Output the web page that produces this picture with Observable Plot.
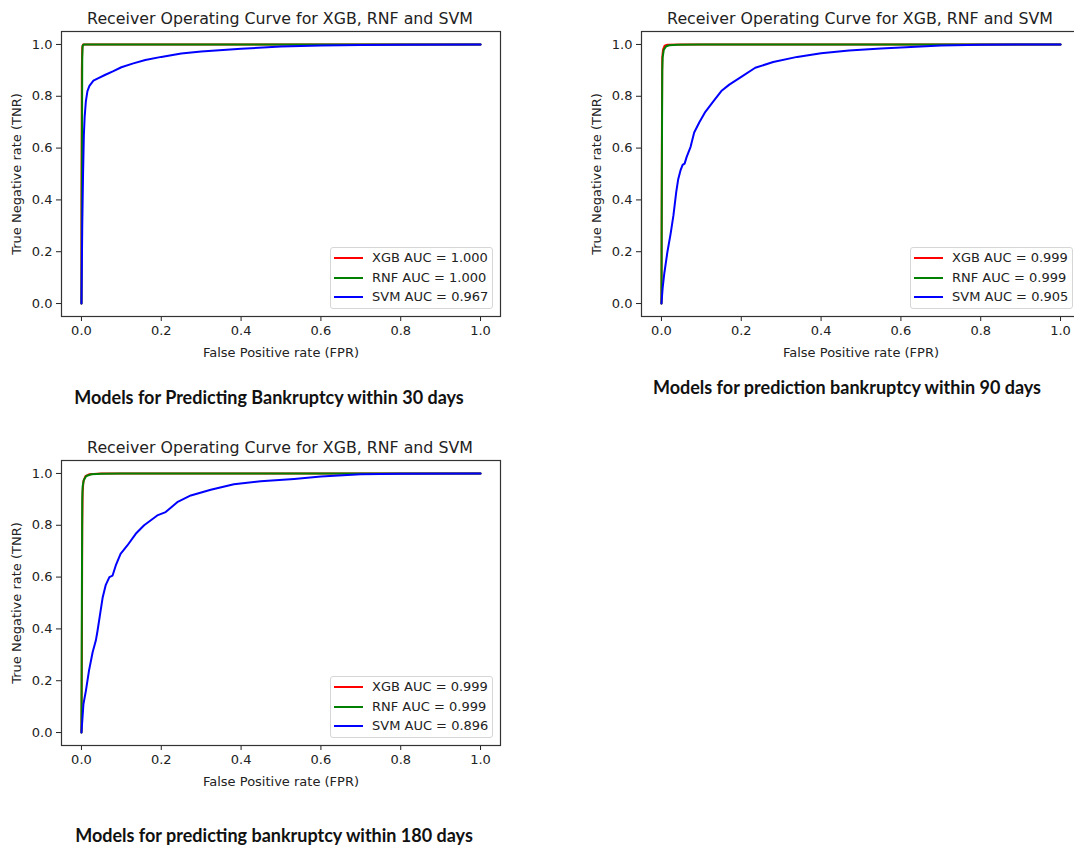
<!DOCTYPE html>
<html><head><meta charset="utf-8">
<script src="https://cdn.jsdelivr.net/npm/d3@7"></script>
<script src="https://cdn.jsdelivr.net/npm/@observablehq/plot@0.6"></script>
<style>
html,body{margin:0;padding:0;background:#fff;overflow:hidden;}
#root{position:relative;width:1074px;height:846px;overflow:hidden;background:#fff;}
.title{position:absolute;font-family:"DejaVu Sans";font-size:15.8px;color:#222;white-space:nowrap;transform:translate(-50%,-50%);}
.caption{position:absolute;font-family:Lato;font-weight:700;font-size:18px;color:#111;white-space:nowrap;transform:translate(-50%,-50%);}
.legend{position:absolute;width:163px;height:62px;box-sizing:border-box;border:1px solid #d6d6d6;border-radius:3px;background:rgba(255,255,255,0.85);font-family:"DejaVu Sans";font-size:13px;color:#222;}
.lrow{position:absolute;left:0;height:0;}
.sw{position:absolute;left:3px;top:-1px;width:29px;height:2px;}
.lt{position:absolute;left:41px;top:-8px;white-space:nowrap;line-height:16px;}
</style>
</head>
<body>
<div id="root"></div>
<script>
// ---- data ----
const models = ["XGB", "RNF", "SVM"];
const fprTicks = [0, 0.2, 0.4, 0.6, 0.8, 1.0];
const tnrTicks = [0, 0.2, 0.4, 0.6, 0.8, 1.0];

const auc30 = ["1.000", "1.000", "0.967"];
const auc90 = ["0.999", "0.999", "0.905"];
const auc180 = ["0.999", "0.999", "0.896"];

const captions = [
  "Models for Predicting Bankruptcy within 30 days",
  "Models for prediction bankruptcy within 90 days",
  "Models for predicting bankruptcy within 180 days"
];
const chartTitle = "Receiver Operating Curve for XGB, RNF and SVM";

// [FPR, TNR] pairs
const xgb30 = [[0,0],[0,0.4],[0.001,0.9],[0.002,0.99],[0.004,1],[1,1]];
const rnf30 = [[0,0],[0.001,0.5],[0.002,0.95],[0.003,0.995],[0.006,1],[1,1]];
const svm30 = [[0,0],[0.002,0.3],[0.004,0.5],[0.006,0.65],[0.008,0.72],[0.011,0.78],[0.015,0.82],[0.02,0.84],[0.03,0.86],[0.04,0.868],[0.06,0.883],[0.08,0.897],[0.1,0.912],[0.13,0.927],[0.16,0.94],[0.2,0.952],[0.25,0.965],[0.3,0.973],[0.4,0.983],[0.5,0.992],[0.6,0.996],[0.7,0.998],[0.8,0.999],[1,1]];

const xgb90 = [[0,0],[0.001,0.6],[0.002,0.95],[0.004,0.98],[0.008,0.995],[0.015,0.999],[0.05,1],[1,1]];
const rnf90 = [[0,0],[0.001,0.5],[0.002,0.9],[0.003,0.95],[0.006,0.98],[0.012,0.993],[0.02,0.997],[0.04,0.999],[0.1,1],[1,1]];
const svm90 = [[0,0],[0.003,0.06],[0.007,0.115],[0.015,0.2],[0.023,0.27],[0.03,0.34],[0.037,0.43],[0.042,0.48],[0.048,0.515],[0.053,0.535],[0.058,0.54],[0.063,0.565],[0.073,0.605],[0.082,0.66],[0.095,0.7],[0.11,0.74],[0.13,0.78],[0.15,0.82],[0.17,0.845],[0.2,0.875],[0.235,0.91],[0.28,0.932],[0.34,0.952],[0.4,0.966],[0.47,0.977],[0.55,0.984],[0.6,0.988],[0.7,0.996],[0.8,0.999],[1,1]];

const xgb180 = [[0,0],[0.001,0.3],[0.002,0.8],[0.003,0.93],[0.005,0.97],[0.01,0.99],[0.02,0.997],[0.05,1],[1,1]];
const rnf180 = [[0,0],[0.001,0.5],[0.002,0.9],[0.003,0.95],[0.006,0.975],[0.012,0.99],[0.025,0.997],[0.05,0.999],[0.1,1],[1,1]];
const svm180 = [[0,0],[0.005,0.11],[0.011,0.16],[0.019,0.24],[0.028,0.31],[0.036,0.355],[0.04,0.39],[0.047,0.46],[0.053,0.52],[0.061,0.57],[0.07,0.6],[0.078,0.606],[0.086,0.645],[0.098,0.69],[0.115,0.722],[0.136,0.767],[0.157,0.8],[0.19,0.838],[0.211,0.851],[0.24,0.889],[0.274,0.915],[0.324,0.937],[0.382,0.958],[0.449,0.97],[0.533,0.979],[0.6,0.988],[0.7,0.997],[0.8,0.999],[1,1]];

// ---- styles ----
const colors = {XGB: "#ff0000", RNF: "#008000", SVM: "#0000ff"};

const root = document.getElementById("root");

function panel(left, top, curves, aucs, caption, capX, capY) {
  const lines = models.map((m, i) => Plot.line(
    curves[i].map(([fpr, tnr]) => ({fpr, tnr})),
    {x: "fpr", y: "tnr", stroke: colors[m], strokeWidth: 2}
  ));
  const svg = Plot.plot({
    width: 510, height: 365,
    marginLeft: 61, marginRight: 10, marginTop: 31, marginBottom: 49,
    style: {background: "transparent", color: "#222", fontFamily: "DejaVu Sans", fontSize: "13px", overflow: "visible"},
    x: {domain: [-0.05, 1.05]},
    y: {domain: [-0.05, 1.05]},
    marks: [
      Plot.axisX(fprTicks, {tickSize: 5, tickPadding: 4, tickFormat: d3.format(".1f"),
        label: "False Positive rate (FPR)", labelAnchor: "center", labelOffset: 40, labelArrow: false}),
      Plot.axisY(tnrTicks, {tickSize: 5, tickPadding: 4, tickFormat: d3.format(".1f"),
        label: "True Negative rate (TNR)", labelAnchor: "center", labelOffset: 50, labelArrow: false}),
      ...lines,
      Plot.frame({stroke: "#333", strokeWidth: 1.2})
    ]
  });
  svg.style.position = "absolute";
  svg.style.left = left + "px";
  svg.style.top = top + "px";
  root.appendChild(svg);

  const t = document.createElement("div");
  t.className = "title";
  t.textContent = chartTitle;
  t.style.left = (left + 280) + "px";
  t.style.top = (top + 18) + "px";
  root.appendChild(t);

  const lg = document.createElement("div");
  lg.className = "legend";
  lg.style.left = (left + 330) + "px";
  lg.style.top = (top + 247) + "px";
  models.forEach((m, i) => {
    const r = document.createElement("div");
    r.className = "lrow";
    r.style.top = (10 + i * 19.5) + "px";
    const sw = document.createElement("div");
    sw.className = "sw";
    sw.style.background = colors[m];
    const tx = document.createElement("div");
    tx.className = "lt";
    tx.textContent = `${m} AUC = ${aucs[i]}`;
    r.appendChild(sw); r.appendChild(tx);
    lg.appendChild(r);
  });
  root.appendChild(lg);

  const c = document.createElement("div");
  c.className = "caption";
  c.textContent = caption;
  c.style.left = capX + "px";
  c.style.top = capY + "px";
  root.appendChild(c);
}

panel(0, 0, [xgb30, rnf30, svm30], auc30, captions[0], 269, 397);
panel(580, 0, [xgb90, rnf90, svm90], auc90, captions[1], 847, 387);
panel(0, 429, [xgb180, rnf180, svm180], auc180, captions[2], 274, 835);
</script>
</body></html>
